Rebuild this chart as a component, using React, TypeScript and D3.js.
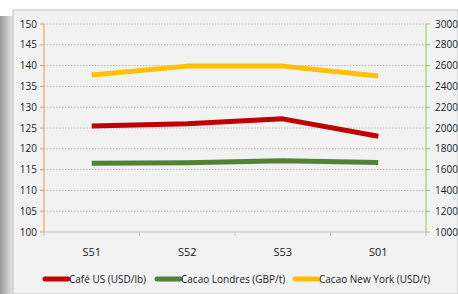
import * as d3 from "d3";

const weeks = ["S51", "S52", "S53", "S01"];
const cafeUS = [125.5, 126, 127.2, 123];
const cacaoLondres = [1660, 1665, 1684, 1668];
const cacaoNewYork = [2510, 2595, 2595, 2500];
const leftTicks = [100, 105, 110, 115, 120, 125, 130, 135, 140, 145, 150];
const rightTicks = [1000, 1200, 1400, 1600, 1800, 2000, 2200, 2400, 2600, 2800, 3000];
const seriesNames = ["Café US (USD/lb)", "Cacao Londres (GBP/t)", "Cacao New York (USD/t)"];
const seriesColors = ["#c00000", "#548235", "#ffc000"];

export default function App() {
  const width = 458;
  const height = 294;
  const marginLeft = 44;
  const marginRight = 32;
  const marginTop = 24;
  const plotBottom = 232;
  const font = "'Liberation Sans Narrow', 'Open Sans', Arial, sans-serif";

  const x = d3.scaleBand().domain(weeks).range([marginLeft, width - marginRight]);
  const yLeft = d3.scaleLinear().domain([100, 150]).range([plotBottom, marginTop]);
  const yRight = d3.scaleLinear().domain([1000, 3000]).range([plotBottom, marginTop]);
  const cx = (w: string) => (x(w) ?? 0) + x.bandwidth() / 2;

  const lineLeft = d3.line<number>().x((_, i) => cx(weeks[i])).y(d => yLeft(d));
  const lineRight = d3.line<number>().x((_, i) => cx(weeks[i])).y(d => yRight(d));

  const paths = [
    lineLeft(cafeUS),
    lineRight(cacaoLondres),
    lineRight(cacaoNewYork),
  ];

  const legendX = [45, 157, 295];

  return (
    <svg width={width} height={height} style={{ position: "absolute", left: 0, top: 0 }}>
      <defs>
        <linearGradient id="shadow" x1="0" x2="1" y1="0" y2="0">
          <stop offset="0" stopColor="#9a9a9a" />
          <stop offset="0.6" stopColor="#c8c8c8" />
          <stop offset="1" stopColor="#e6e6e6" />
        </linearGradient>
      </defs>
      <rect x={0} y={0} width={width} height={height} fill="#ffffff" />
      <rect x={0} y={16} width={13} height={height - 16} fill="url(#shadow)" />
      <rect x={13} y={10} width={width - 13} height={height - 10} fill="#f2f2f2" stroke="#bfbfbf" strokeWidth={1} />

      {/* gridlines */}
      {leftTicks.slice(1).map(t => (
        <line key={t} x1={marginLeft} x2={width - marginRight} y1={yLeft(t)} y2={yLeft(t)}
          stroke="#a6a6a6" strokeWidth={0.8} strokeDasharray="1.5,1.5" />
      ))}

      {/* left axis */}
      <line x1={marginLeft} x2={marginLeft} y1={marginTop} y2={plotBottom} stroke="#f79646" strokeWidth={1} />
      {leftTicks.map(t => (
        <g key={t}>
          <line x1={marginLeft - 4} x2={marginLeft} y1={yLeft(t)} y2={yLeft(t)} stroke="#f79646" />
          <text x={marginLeft - 7} y={yLeft(t)} dy="0.35em" textAnchor="end" fontSize={10} fontFamily={font} fill="#1a1a1a">{t}</text>
        </g>
      ))}

      {/* right axis */}
      <line x1={width - marginRight} x2={width - marginRight} y1={marginTop} y2={plotBottom} stroke="#92d050" strokeWidth={1} />
      {rightTicks.map(t => (
        <g key={t}>
          <line x1={width - marginRight} x2={width - marginRight + 4} y1={yRight(t)} y2={yRight(t)} stroke="#92d050" />
          <text x={width - marginRight + 9} y={yRight(t)} dy="0.35em" textAnchor="start" fontSize={10} fontFamily={font} fill="#1a1a1a">{t}</text>
        </g>
      ))}

      {/* bottom axis */}
      <line x1={marginLeft} x2={width - marginRight} y1={plotBottom} y2={plotBottom} stroke="#bfbfbf" />
      {weeks.map((w, i) => (
        <g key={w}>
          <line x1={(x(w) ?? 0) + (i === 0 ? 0 : 0)} x2={x(w) ?? 0} y1={plotBottom} y2={plotBottom + 4} stroke="#bfbfbf" />
          <text x={cx(w)} y={252} dy="0.35em" textAnchor="middle" fontSize={11} fontFamily={font} fill="#1a1a1a">{w}</text>
        </g>
      ))}
      <line x1={width - marginRight} x2={width - marginRight} y1={plotBottom} y2={plotBottom + 4} stroke="#bfbfbf" />

      {/* series */}
      {paths.map((p, i) => (
        <path key={i} d={p ?? ""} fill="none" stroke={seriesColors[i]} strokeWidth={5} strokeLinejoin="round" />
      ))}

      {/* legend */}
      {seriesNames.map((n, i) => (
        <g key={n}>
          <line x1={legendX[i]} x2={legendX[i] + 23} y1={279} y2={279} stroke={seriesColors[i]} strokeWidth={5} strokeLinecap="round" />
          <text x={legendX[i] + 24} y={279} dy="0.35em" fontSize={10} fontFamily={font} fill="#1a1a1a">{n}</text>
        </g>
      ))}
    </svg>
  );
}
